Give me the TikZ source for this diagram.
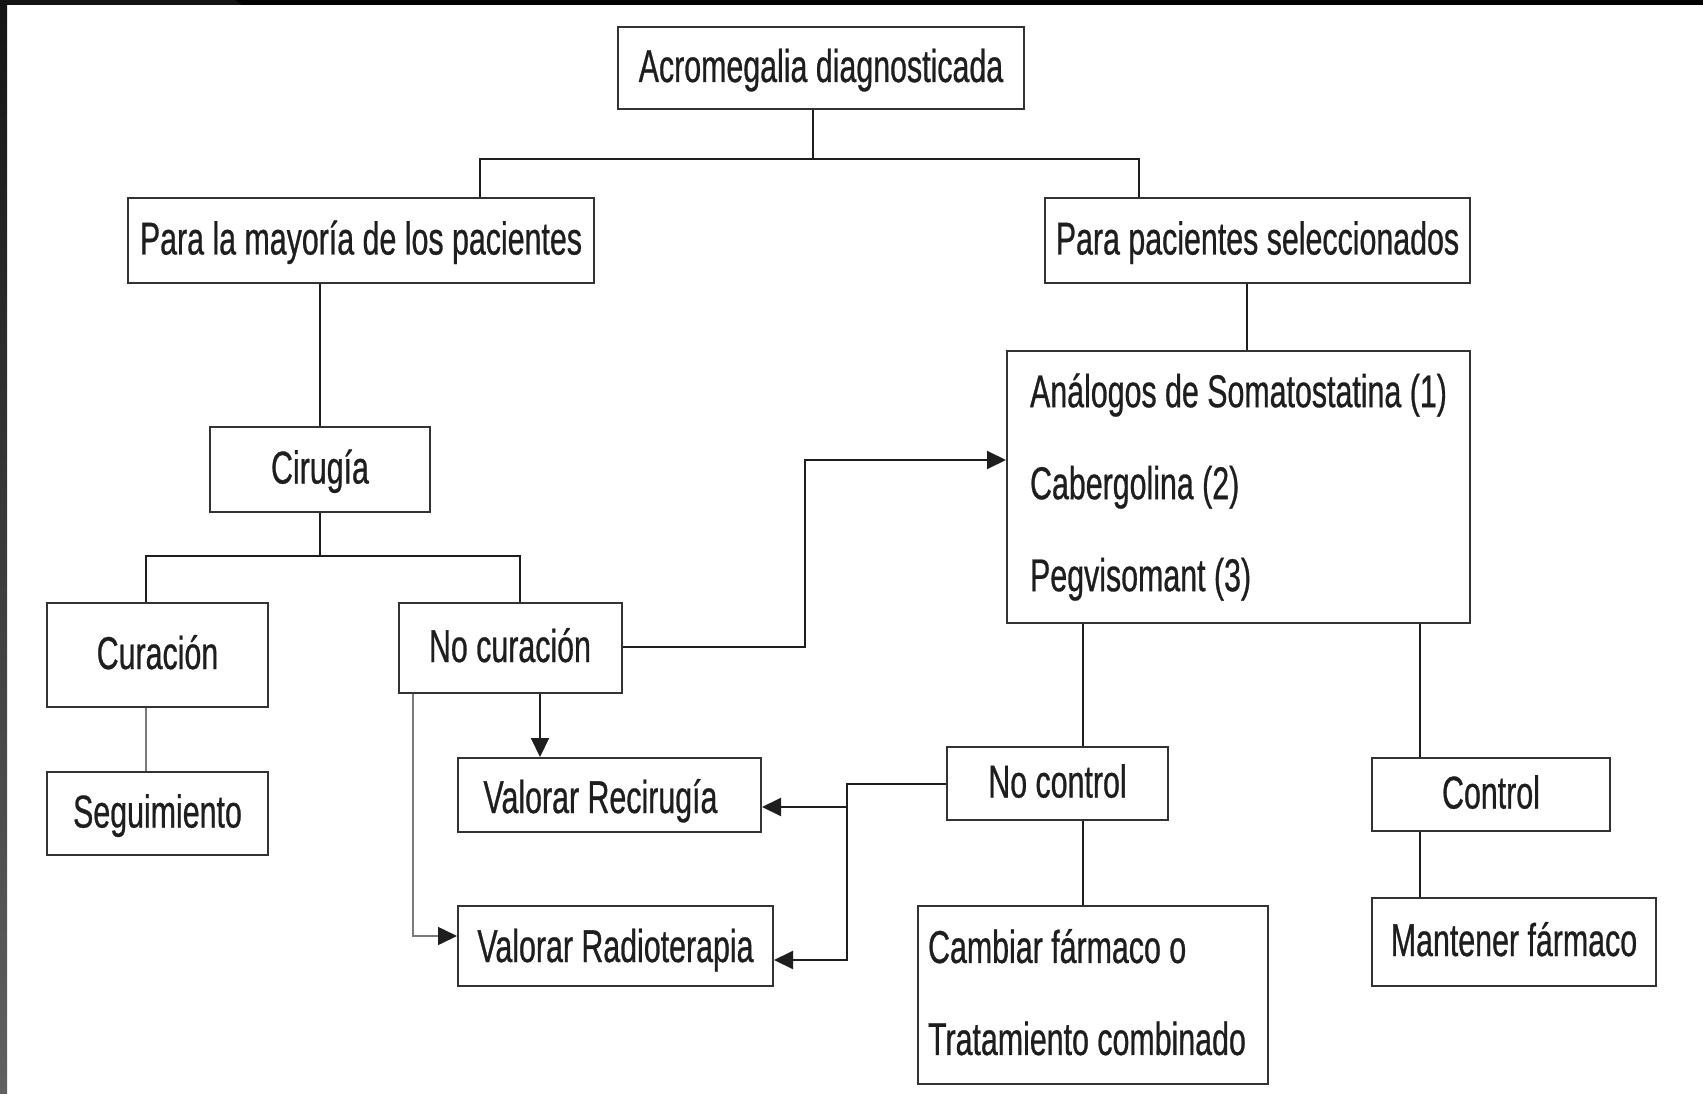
\documentclass[tikz,border=0pt]{standalone}
\usepackage{fontspec}
\setmainfont{Liberation Sans}[FakeStretch=0.66,FakeBold=0.6]
\usetikzlibrary{arrows.meta}
\definecolor{ink}{HTML}{1E1E1E}
\definecolor{edge}{HTML}{333333}
\definecolor{gline}{HTML}{7A7A7A}
\begin{document}
\begin{tikzpicture}[x=1pt,y=-1pt,
  bx/.style={draw=edge, line width=2pt, inner sep=0pt, text=ink, font=\fontsize{46}{92}\selectfont},
  one/.style={text height=38pt, text depth=10pt},
  conn/.style={draw=ink, line width=2pt},
  arr/.style={conn, -{Triangle[length=19pt,width=18pt]}},
  gconn/.style={draw=gline, line width=1.6pt},
  garr/.style={gconn, -{Triangle[length=19pt,width=18pt,color=ink]}}
]
\useasboundingbox (0,0) rectangle (1703,1094);
\fill[white] (0,0) rectangle (1703,1094);
% dark frame
\fill[black] (0,0) rectangle (1703,5);
\fill[black!92] (0,0) -- (235,0) -- (242,5) -- (0,5) -- cycle;
\shade[top color=black!92, bottom color=black!62] (0,0) rectangle (7,1094);

% nodes
\node[bx,one,minimum width=406pt,minimum height=82pt] (acro) at (821,68) {Acromegalia diagnosticada};
\node[bx,one,minimum width=466pt,minimum height=85pt] (may) at (361,240.5) {Para la mayoría de los pacientes};
\node[bx,one,minimum width=425pt,minimum height=85pt] (pac) at (1257.5,240.5) {Para pacientes seleccionados};
\node[bx,one,minimum width=220pt,minimum height=85pt] (cir) at (320,469.5) {Cirugía};
\node[bx,one,minimum width=221pt,minimum height=104pt] (cur) at (157.5,655) {Curación};
\node[bx,one,minimum width=221pt,minimum height=83pt] (seg) at (157.5,813.5) {Seguimiento};
\node[bx,one,minimum width=223pt,minimum height=90pt] (nocur) at (510,648) {No curación};
\node[bx,one,text height=46pt,minimum width=303pt,minimum height=74pt] (rec) at (609.5,795) {Valorar Recirugía\hspace*{18pt}};
\node[bx,one,text height=42pt,minimum width=315pt,minimum height=80pt] (rad) at (615.5,946) {Valorar Radioterapia};
\node[bx,minimum width=463pt,minimum height=272pt,align=left] (ana) at (1238.5,487) {Análogos de Somatostatina (1)\\Cabergolina (2)\\Pegvisomant (3)};
\node[bx,one,minimum width=221pt,minimum height=73pt] (noc) at (1057.5,783.5) {No control};
\node[bx,one,minimum width=238pt,minimum height=73pt] (ctl) at (1491,794.5) {Control};
\node[bx,one,minimum width=284pt,minimum height=88pt] (man) at (1514,942) {Mantener fármaco};
\node[bx,minimum width=350pt,minimum height=178pt,align=left,text depth=6pt] (camb) at (1093,995) {Cambiar fármaco o\\Tratamiento combinado\hspace*{12pt}};

% junction coordinates
\coordinate (j0) at (813,159);
\coordinate (j1) at (480,159);
\coordinate (j2) at (1139,159);
\coordinate (j3) at (320,556);
\coordinate (j4) at (146,556);
\coordinate (j5) at (520,556);
\coordinate (j6) at (540,720);
\coordinate (j7) at (413,936);
\coordinate (j8) at (805,647);
\coordinate (j9) at (805,460);
\coordinate (j10) at (1247,300);
\coordinate (j11) at (1083,700);
\coordinate (j12) at (1420,700);
\coordinate (j13) at (847,784);
\coordinate (j14) at (847,807);
\coordinate (j15) at (847,960);

% connectors
\draw[conn] (acro.south -| j0) -- (j0);
\draw[conn] (may.north -| j1) -- (j1) -- (j2) -- (pac.north -| j2);
\draw[conn] (may.south -| cir.north) -- (cir.north);
\draw[conn] (cir.south) -- (j3);
\draw[conn] (cur.north -| j4) -- (j4) -- (j5) -- (nocur.north -| j5);
\draw[gconn] (cur.south -| j4) -- (seg.north -| j4);
\draw[arr] (nocur.south -| j6) -- (rec.north -| j6);
\draw[garr] (nocur.south -| j7) -- (j7) -- (rad.west |- j7);
\draw[arr] (nocur.east |- j8) -- (j8) -- (j9) -- (ana.west |- j9);
\draw[conn] (pac.south -| j10) -- (ana.north -| j10);
\draw[conn] (ana.south -| j11) -- (noc.north -| j11);
\draw[conn] (ana.south -| j12) -- (ctl.north -| j12);
\draw[conn] (ctl.south -| j12) -- (man.north -| j12);
\draw[conn] (noc.south -| j11) -- (camb.north -| j11);
\draw[arr] (noc.west |- j13) -- (j13) -- (j15) -- (rad.east |- j15);
\draw[arr] (j14) -- (rec.east |- j14);
\end{tikzpicture}
\end{document}
